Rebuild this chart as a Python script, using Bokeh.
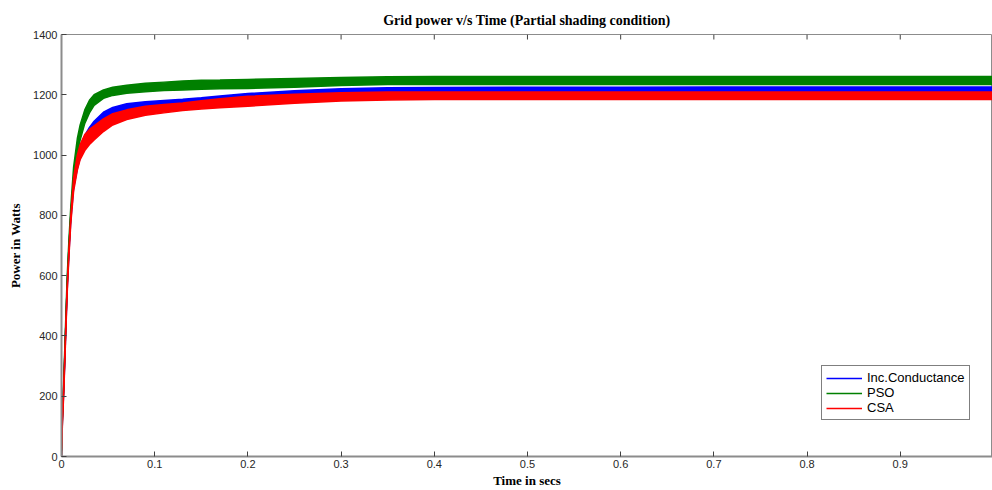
import math
from bokeh.plotting import figure
from bokeh.models import Range1d, FixedTicker, Legend, LegendItem
from bokeh.embed import file_html
from bokeh.resources import INLINE

# ---- data (envelopes of the oscillating signals) ----
time_s = [0, 0.001, 0.0025, 0.0043, 0.006, 0.008, 0.01, 0.013, 0.017, 0.02,
          0.025, 0.03, 0.035, 0.045, 0.055, 0.07, 0.09, 0.11, 0.13, 0.15,
          0.17, 0.2, 0.25, 0.3, 0.35, 0.4, 0.5, 0.6, 0.7, 0.8, 0.9, 1.0]

ic_upper = [20, 140, 245, 410, 565, 695, 805, 925, 990, 1030,
            1065, 1092, 1112, 1142, 1158, 1170, 1177, 1181, 1185, 1190,
            1196, 1204, 1213, 1220, 1223, 1224, 1225, 1225, 1226, 1226, 1226, 1226]
ic_lower = [0, 120, 225, 390, 545, 675, 785, 890, 955, 990,
            1025, 1050, 1068, 1098, 1118, 1135, 1145, 1150, 1156, 1162,
            1168, 1176, 1185, 1192, 1195, 1196, 1197, 1197, 1197, 1197, 1197, 1197]

pso_upper = [20, 150, 260, 430, 590, 720, 830, 960, 1055, 1100,
             1150, 1182, 1200, 1216, 1225, 1232, 1238, 1242, 1246, 1248,
             1249, 1251, 1254, 1257, 1260, 1261, 1261, 1261, 1261, 1261, 1261, 1261]
pso_lower = [0, 125, 235, 405, 565, 695, 800, 920, 1005, 1050,
             1105, 1140, 1165, 1188, 1198, 1205, 1210, 1214, 1216, 1218,
             1220, 1221, 1225, 1231, 1234, 1234, 1234, 1234, 1234, 1234, 1234, 1234]

csa_upper = [25, 135, 240, 405, 560, 690, 800, 925, 1000, 1035,
             1068, 1085, 1097, 1120, 1137, 1150, 1162, 1168, 1173, 1180,
             1187, 1195, 1202, 1207, 1209, 1209, 1209, 1209, 1209, 1209, 1209, 1209]
csa_lower = [0, 110, 215, 380, 535, 665, 775, 880, 950, 985,
             1015, 1035, 1050, 1078, 1100, 1118, 1132, 1140, 1148, 1153,
             1157, 1162, 1172, 1179, 1183, 1184, 1184, 1184, 1184, 1184, 1184, 1184]

series_names = ["Inc.Conductance", "PSO", "CSA"]
series_colors = ["#0000ff", "#008000", "#ff0000"]

x_ticks = [0, 0.1, 0.2, 0.3, 0.4, 0.5, 0.6, 0.7, 0.8, 0.9]
x_tick_labels = ["0", "0.1", "0.2", "0.3", "0.4", "0.5", "0.6", "0.7", "0.8", "0.9"]
y_ticks = [0, 200, 400, 600, 800, 1000, 1200, 1400]

# ---- figure ----
p = figure(width=992, height=490, output_backend="svg", toolbar_location=None,
           x_range=Range1d(0, 0.999), y_range=Range1d(0, 1400),
           min_border_left=61, min_border_right=0, min_border_top=34,
           min_border_bottom=33)
p.background_fill_color = "white"
p.border_fill_color = "white"
p.outline_line_color = "#8c8c8c"
p.outline_line_width = 1
p.grid.visible = False

p.title.text = "Grid power v/s Time (Partial shading condition)"
p.title.align = "center"
p.title.text_font = "Liberation Serif"
p.title.text_font_style = "bold"
p.title.text_font_size = "14px"
p.title.text_color = "#000000"
p.title.standoff = 13

tick_font = "Liberation Sans"
for ax in (p.xaxis[0], p.yaxis[0]):
    ax.axis_line_color = "#8c8c8c"
    ax.axis_line_width = 2
    ax.major_tick_in = 5
    ax.major_tick_out = 0
    ax.major_tick_line_color = "#404040"
    ax.minor_tick_line_color = None
    ax.major_label_text_font = tick_font
    ax.major_label_text_font_size = "11px"
    ax.major_label_text_color = "#262626"
    ax.axis_label_text_font = "Liberation Serif"
    ax.axis_label_text_font_style = "bold"
    ax.axis_label_text_font_size = "13px"
    ax.axis_label_text_color = "#000000"

p.xaxis.ticker = FixedTicker(ticks=x_ticks)
p.xaxis.major_label_overrides = {t: l for t, l in zip(x_ticks, x_tick_labels)}
p.xaxis.major_label_standoff = 3
p.xaxis.axis_label = "Time in secs"
p.xaxis.axis_label_standoff = 2
p.yaxis.ticker = FixedTicker(ticks=y_ticks)
p.yaxis.axis_label = "Power in Watts"
p.yaxis.major_label_standoff = 4
p.yaxis.axis_label_standoff = 7

# inward ticks along the top edge (MATLAB box style)
p.ray(x=x_ticks, y=[y_ticks[-1]] * len(x_ticks), length=5, length_units="screen",
      angle=-math.pi / 2, line_color="#404040", line_width=1)

# ---- bands ----
uppers = [ic_upper, pso_upper, csa_upper]
lowers = [ic_lower, pso_lower, csa_lower]
legend_items = []
for name, col, up, lo in zip(series_names, series_colors, uppers, lowers):
    p.varea(x=time_s, y1=lo, y2=up, fill_color=col, fill_alpha=1.0)
    p.line(x=time_s, y=lo, line_color=col, line_width=1.5)
    r = p.line(x=time_s, y=up, line_color=col, line_width=1.5)
    legend_items.append(LegendItem(label=name, renderers=[r]))

legend = Legend(items=legend_items, location=(760, 36),
                label_text_font="Liberation Sans", label_text_font_size="13px",
                label_text_color="#000000", glyph_width=36, glyph_height=14,
                label_height=14, spacing=0, padding=4, margin=0,
                border_line_color="#000000", border_line_width=1,
                background_fill_color="white", background_fill_alpha=1.0,
                label_standoff=5)
p.add_layout(legend)

open("out.html", "w").write(file_html(p, INLINE))
